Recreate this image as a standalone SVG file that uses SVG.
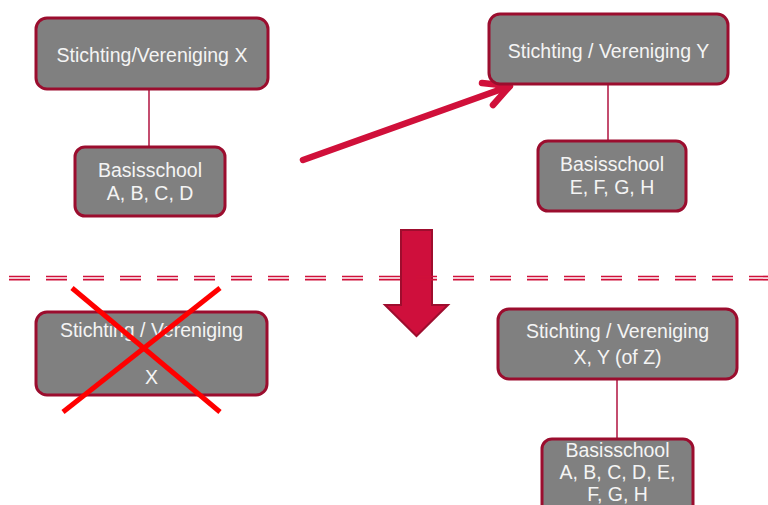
<svg xmlns="http://www.w3.org/2000/svg" width="768" height="505" viewBox="0 0 768 505">
<style>
.box{fill:#808080;stroke:#9B0D2E;stroke-width:3}
.t{font-family:"Liberation Sans",Arial,sans-serif;font-size:19.5px;fill:#F4F4F4;text-anchor:middle}
.con{stroke:#B0123F;stroke-width:1.5;fill:none}
.dash{stroke:#D0103A;stroke-width:1.7;stroke-dasharray:21 16;fill:none}
.cross{stroke:#FF0000;stroke-width:5;fill:none}
</style>
<rect width="768" height="505" fill="#FFFFFF"/>
<g id="connectors">
<line class="con" x1="149" y1="90" x2="149" y2="147"/>
<line class="con" x1="608" y1="84" x2="608" y2="141"/>
<line class="con" x1="617" y1="379" x2="617" y2="439"/>
<path d="M303 160 L510 86 M482 83 L510 86 L493 105" stroke="#D0103A" stroke-width="6.5" fill="none" stroke-linecap="round" stroke-linejoin="round"/>
</g>
<g id="node-x">
<rect class="box" x="36" y="18" width="232" height="71" rx="11"/>
<text class="t" x="152" y="61.5">Stichting/Vereniging X</text>
</g>
<g id="node-school-abcd">
<rect class="box" x="75" y="147" width="150" height="69" rx="10"/>
<text class="t" x="150" y="176.7">Basisschool</text>
<text class="t" x="150" y="200">A, B, C, D</text>
</g>
<g id="node-y">
<rect class="box" x="489" y="14" width="239" height="70" rx="11"/>
<text class="t" x="608.5" y="57.5">Stichting / Vereniging Y</text>
</g>
<g id="node-school-efgh">
<rect class="box" x="538" y="141" width="148" height="70" rx="10"/>
<text class="t" x="612" y="170.7">Basisschool</text>
<text class="t" x="612" y="194.3">E, F, G, H</text>
</g>
<g id="down-arrow">
<path d="M401 230 L432 230 L432 305 L448 305 L416.5 336 L385 305 L401 305 Z" fill="#CF0F3C" stroke="#9E0D2E" stroke-width="2"/>
</g>
<g id="divider">
<line class="dash" x1="9" y1="276.5" x2="768" y2="276.5"/>
<line class="dash" x1="9" y1="279.7" x2="768" y2="279.7"/>
</g>
<g id="node-x-old">
<rect class="box" x="36" y="312" width="231" height="83" rx="11"/>
<text class="t" x="151.5" y="337.3">Stichting / Vereniging</text>
<text class="t" x="151.5" y="384">X</text>
<line class="cross" x1="72" y1="288" x2="220" y2="412"/>
<line class="cross" x1="220" y1="288" x2="63" y2="412"/>
</g>
<g id="node-xyz">
<rect class="box" x="498" y="309" width="239" height="70" rx="11"/>
<text class="t" x="617.5" y="338">Stichting / Vereniging</text>
<text class="t" x="617.5" y="364">X, Y (of Z)</text>
</g>
<g id="node-school-all">
<rect class="box" x="542" y="439" width="151" height="82" rx="10"/>
<text class="t" x="617.5" y="456.5">Basisschool</text>
<text class="t" x="617.5" y="479">A, B, C, D, E,</text>
<text class="t" x="617.5" y="500.5">F, G, H</text>
</g>
</svg>
